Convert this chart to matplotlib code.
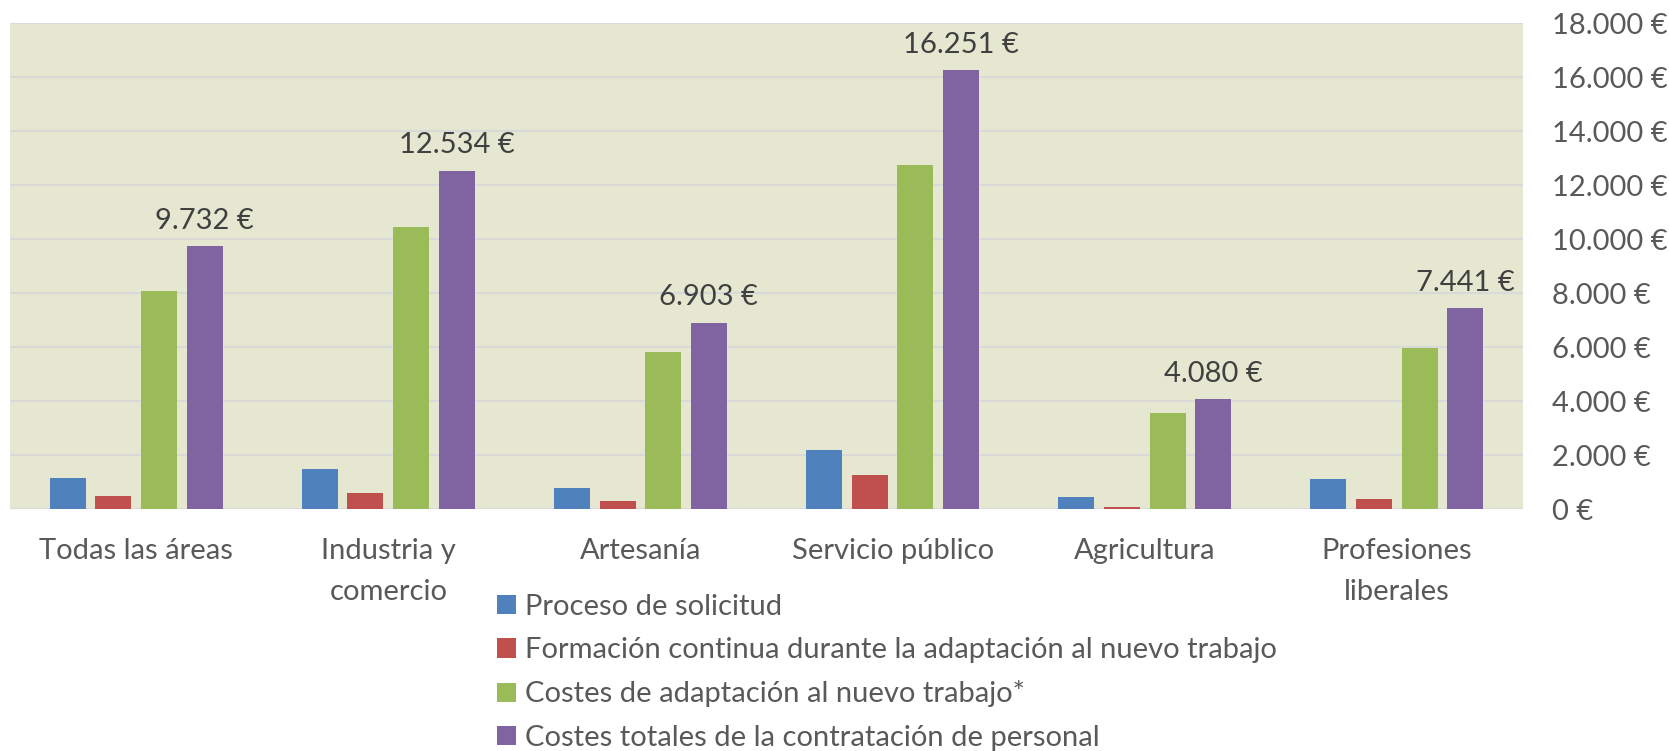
import matplotlib.pyplot as plt
import numpy as np

categories = ['Todas las áreas', 'Industria y\ncomercio', 'Artesanía',
              'Servicio público', 'Agricultura', 'Profesiones\nliberales']
series_names = ['Proceso de solicitud',
                'Formación continua durante la adaptación al nuevo trabajo',
                'Costes de adaptación al nuevo trabajo*',
                'Costes totales de la contratación de personal']
proceso = [1170, 1470, 800, 2200, 440, 1110]
formacion = [470, 590, 310, 1250, 70, 360]
adaptacion = [8070, 10470, 5815, 12765, 3545, 5965]
totales = [9732, 12534, 6903, 16251, 4080, 7441]
yticks = [0, 2000, 4000, 6000, 8000, 10000, 12000, 14000, 16000, 18000]

colors = ['#4F81BD', '#C0504D', '#9BBB59', '#8064A2']
tick_color = '#595959'
label_color = '#404040'
fs = 21

plt.rcParams['font.family'] = ['Lato', 'DejaVu Sans']

fig = plt.figure(figsize=(16.69, 7.51), dpi=100)
ax = fig.add_axes([0.006, 0.322, 0.9065, 0.647])
ax.set_facecolor('#E5E7D0')

x = np.arange(len(categories))
step = 0.181
width = 0.143
all_series = [proceso, formacion, adaptacion, totales]
for i, (vals, name) in enumerate(zip(all_series, series_names)):
    ax.bar(x + (i - 1.5) * step, vals, width, color=colors[i], label=name, zorder=3)

# value labels above the total-cost bars
for xi, v in zip(x, totales):
    label = f'{v:,}'.replace(',', '.') + ' €'
    ax.annotate(label, (xi + 1.5 * step, v), xytext=(0, 9), textcoords='offset points',
                ha='center', va='bottom', fontsize=fs, color=label_color)

ax.set_xlim(-0.5, len(categories) - 0.5)
ax.set_ylim(0, 18000)
ax.set_yticks(yticks)
ax.set_yticklabels([f'{t:,}'.replace(',', '.') + ' €' for t in yticks])
ax.yaxis.tick_right()
ax.tick_params(axis='y', length=0, pad=21, labelsize=fs, labelcolor=tick_color)
ax.set_xticks(x)
ax.set_xticklabels(categories, linespacing=1.7)
ax.tick_params(axis='x', length=0, pad=21, labelsize=fs, labelcolor=tick_color)
ax.grid(axis='y', color='#D9D9D9', linewidth=1.5, zorder=1)
for s in ax.spines.values():
    s.set_visible(False)

leg = fig.legend(loc='upper left', bbox_to_anchor=(0.298, 0.209), frameon=False,
                 fontsize=fs, handlelength=0.63, handleheight=0.63, handletextpad=0.32,
                 labelspacing=0.59, borderpad=0, borderaxespad=0)
for t in leg.get_texts():
    t.set_color(tick_color)

fig.savefig('out.png', dpi=100)
